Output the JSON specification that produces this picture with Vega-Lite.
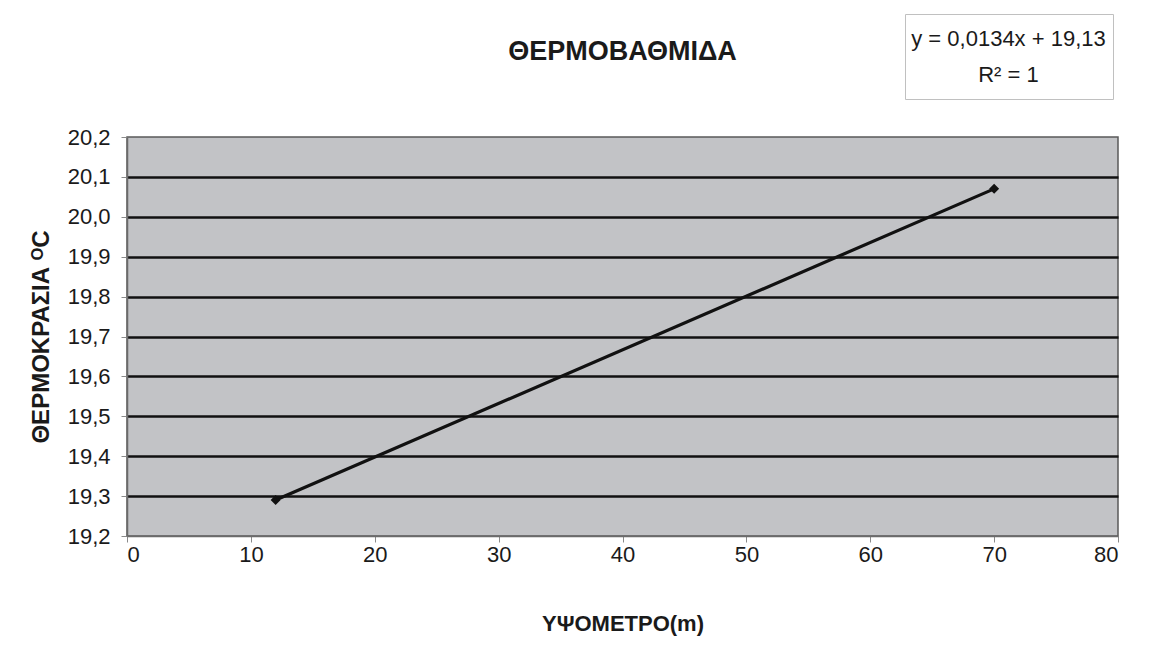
{
  "$schema": "https://vega.github.io/schema/vega-lite/v6.json",
  "width": 991,
  "height": 399,
  "autosize": "none",
  "padding": {"left": 127, "top": 137, "right": 37, "bottom": 134},
  "background": "white",
  "config": {
    "locale": {"number": {"decimal": ",", "thousands": ".", "grouping": [3], "currency": ["", " €"]}},
    "font": "Liberation Sans",
    "view": {"fill": "#c2c3c6", "stroke": "#5a5a5a", "strokeWidth": 1.5}
  },
  "title": {
    "text": "ΘΕΡΜΟΒΑΘΜΙΔΑ",
    "fontSize": 27,
    "fontWeight": "bold",
    "font": "Liberation Sans",
    "color": "#1a1a1a",
    "anchor": "middle",
    "offset": -52
  },
  "data": {"values": [{"h": 12, "t": 19.29}, {"h": 70, "t": 20.07}]},
  "encoding": {
    "x": {
      "field": "h",
      "type": "quantitative",
      "scale": {"domain": [0, 80], "nice": false, "zero": false},
      "axis": {
        "title": "ΥΨΟΜΕΤΡΟ(m)",
        "values": [0, 10, 20, 30, 40, 50, 60, 70, 80],
        "grid": false,
        "domainColor": "#6a6a6a",
        "domainWidth": 1.5,
        "tickColor": "#8a8a8a",
        "tickSize": 6,
        "labelFontSize": 22,
        "labelColor": "#1a1a1a",
        "labelPadding": 2,
        "titleFontSize": 22,
        "titleFontWeight": "bold",
        "titleColor": "#1a1a1a",
        "titlePadding": 48
      }
    },
    "y": {
      "field": "t",
      "type": "quantitative",
      "scale": {"domain": [19.2, 20.2], "nice": false, "zero": false},
      "axis": {
        "title": "ΘΕΡΜΟΚΡΑΣΙΑ ᴼC",
        "values": [19.2, 19.3, 19.4, 19.5, 19.6, 19.7, 19.8, 19.9, 20.0, 20.1, 20.2],
        "format": ".1f",
        "grid": true,
        "gridColor": {"condition": {"test": "datum.value < 19.25 || datum.value > 20.15", "value": "transparent"}, "value": "#111111"},
        "gridWidth": 2.5,
        "domainColor": "#6a6a6a",
        "domainWidth": 1.5,
        "tickColor": "#8a8a8a",
        "tickSize": 6,
        "labelFontSize": 22,
        "labelColor": "#1a1a1a",
        "labelPadding": 11,
        "titleFontSize": 24,
        "titleFontWeight": "bold",
        "titleColor": "#1a1a1a",
        "titlePadding": 14
      }
    }
  },
  "layer": [
    {
      "mark": {"type": "line", "color": "#111111", "strokeWidth": 3.2}
    },
    {
      "mark": {"type": "point", "shape": "diamond", "filled": true, "color": "#111111", "size": 100, "opacity": 1}
    },
    {
      "data": {"values": [{"lbl": "y = 0,0134x + 19,13"}, {"lbl": "R² = 1"}]},
      "mark": {"type": "point", "opacity": 0},
      "encoding": {
        "x": {"value": 0},
        "y": {"value": 0},
        "color": {
          "field": "lbl",
          "type": "nominal",
          "scale": {"domain": ["y = 0,0134x + 19,13", "R² = 1"], "range": ["#111111", "#111111"]},
          "legend": {
            "title": null,
            "orient": "none",
            "legendX": 778,
            "legendY": -123,
            "fillColor": "white",
            "strokeColor": "#c0c0c0",
            "padding": 6.5,
            "symbolType": "circle",
            "symbolSize": 1296,
            "symbolOpacity": 0,
            "symbolStrokeWidth": 0,
            "labelAlign": "center",
            "labelOffset": 61,
            "labelFontSize": 22,
            "labelColor": "#1a1a1a",
            "labelFont": "Liberation Sans",
            "labelLimit": 300,
            "rowPadding": 0
          }
        }
      }
    }
  ]
}
